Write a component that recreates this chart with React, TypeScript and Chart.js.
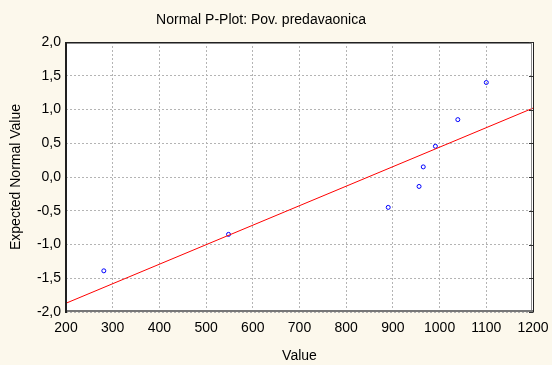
import React, { useEffect, useRef } from "react";
import { Chart, registerables } from "chart.js";

Chart.register(...registerables);

const values = [281, 548, 890, 956, 965, 991, 1039, 1100];
const expected = [-1.39, -0.85, -0.45, -0.14, 0.15, 0.455, 0.85, 1.40];
const fitX = [200, 1200];
const fitY = [-1.87, 1.02];

const titleText = "Normal P-Plot: Pov. predavaonica";
const xTitle = "Value";
const yTitle = "Expected Normal Value";

const FONT = "'Liberation Sans', Arial, sans-serif";
const FS = 14;

const bgPlugin = {
  id: "bgPlugin",
  beforeDraw(chart: any) {
    const { ctx, chartArea } = chart;
    ctx.save();
    ctx.fillStyle = "#FCF8EC";
    ctx.fillRect(0, 0, chart.width, chart.height);
    ctx.fillStyle = "#FFFFFF";
    ctx.fillRect(chartArea.left, chartArea.top, chartArea.right - chartArea.left, chartArea.bottom - chartArea.top);
    ctx.fillStyle = "#000";
    ctx.font = `${FS}px ${FONT}`;
    ctx.textAlign = "center";
    ctx.textBaseline = "middle";
    ctx.fillText(titleText, 261, 20);
    ctx.restore();
  },
  afterDraw(chart: any) {
    const { ctx, chartArea } = chart;
    const l = Math.round(chartArea.left), r = Math.round(chartArea.right);
    const t = Math.round(chartArea.top), b = Math.round(chartArea.bottom);
    ctx.save();
    ctx.strokeStyle = "#8a8a8a";
    ctx.lineWidth = 1;
    ctx.beginPath();
    ctx.moveTo(l, t + 1.5); ctx.lineTo(r - 1, t + 1.5);
    ctx.moveTo(r - 1.5, t + 1); ctx.lineTo(r - 1.5, b);
    ctx.stroke();
    ctx.strokeStyle = "#777777";
    ctx.lineWidth = 2;
    ctx.beginPath();
    ctx.moveTo(l, b - 1); ctx.lineTo(r, b - 1);
    ctx.stroke();
    ctx.strokeStyle = "#202020";
    ctx.lineWidth = 1;
    ctx.beginPath();
    ctx.moveTo(l, t + 0.5); ctx.lineTo(r + 0.5, t + 0.5);
    ctx.moveTo(r + 0.5, t); ctx.lineTo(r + 0.5, b + 0.5);
    ctx.stroke();
    ctx.lineWidth = 2;
    ctx.beginPath();
    ctx.moveTo(l, t); ctx.lineTo(l, b + 1);
    ctx.stroke();
    const ys = chart.scales.y;
    ctx.strokeStyle = "#303030";
    ctx.lineWidth = 1;
    ctx.beginPath();
    ys.ticks.forEach((tk: any) => {
      const py = Math.round(ys.getPixelForValue(tk.value)) + 0.5;
      ctx.moveTo(r - 4, py); ctx.lineTo(r, py);
    });
    ctx.stroke();
    ctx.restore();
  },
};

export default function App() {
  const ref = useRef<HTMLCanvasElement | null>(null);
  useEffect(() => {
    if (!ref.current) return;
    const pts = values.map((v, i) => ({ x: v, y: expected[i] }));
    const fit = fitX.map((v, i) => ({ x: v, y: fitY[i] }));
    const chart = new Chart(ref.current, {
      type: "scatter",
      data: {
        datasets: [
          {
            type: "line",
            data: fit,
            borderColor: "#FF0000",
            borderWidth: 1,
            pointRadius: 0,
            fill: false,
          } as any,
          {
            data: pts,
            pointRadius: 2,
            pointBorderColor: "#0000FF",
            pointBackgroundColor: "rgba(0,0,0,0)",
            pointBorderWidth: 1,
            borderColor: "#0000FF",
            backgroundColor: "rgba(0,0,0,0)",
          },
        ],
      },
      options: {
        animation: false,
        responsive: false,
        layout: { padding: { left: 0, right: 19, top: 42, bottom: 0 } },
        plugins: {
          legend: { display: false },
          tooltip: { enabled: false },
          title: { display: false },
        },
        scales: {
          x: {
            type: "linear",
            min: 200,
            max: 1200,
            afterFit(scale: any) {
              scale.height = 53;
              scale.paddingLeft = 0;
              scale.paddingRight = 0;
            },
            ticks: {
              stepSize: 100,
              color: "#000",
              padding: 8,
              font: { family: FONT, size: FS },
              maxRotation: 0,
              callback: (v: any) => String(v),
            },
            grid: { color: "#b4b4b4", drawTicks: false },
            border: { display: false, dash: [2, 2] },
            title: {
              display: true,
              text: xTitle,
              color: "#000",
              font: { family: FONT, size: FS },
              padding: { top: 0, bottom: 0 },
            },
          },
          y: {
            type: "linear",
            min: -2,
            max: 2,
            afterFit(scale: any) { scale.width = 66; },
            ticks: {
              stepSize: 0.5,
              color: "#000",
              padding: 5,
              font: { family: FONT, size: FS },
              callback: (v: any) => Number(v).toFixed(1).replace(".", ","),
            },
            grid: { color: "#b4b4b4", drawTicks: false },
            border: { display: false, dash: [2, 2] },
            title: {
              display: true,
              text: yTitle,
              color: "#000",
              font: { family: FONT, size: FS },
              padding: { top: 8, bottom: 0 },
            },
          },
        },
      },
      plugins: [bgPlugin],
    } as any);
    return () => chart.destroy();
  }, []);
  return (
    <div style={{ position: "absolute", left: 0, top: 0, width: 552, height: 365 }}>
      <canvas ref={ref} width={552} height={365} style={{ display: "block", width: 552, height: 365 }} />
    </div>
  );
}
